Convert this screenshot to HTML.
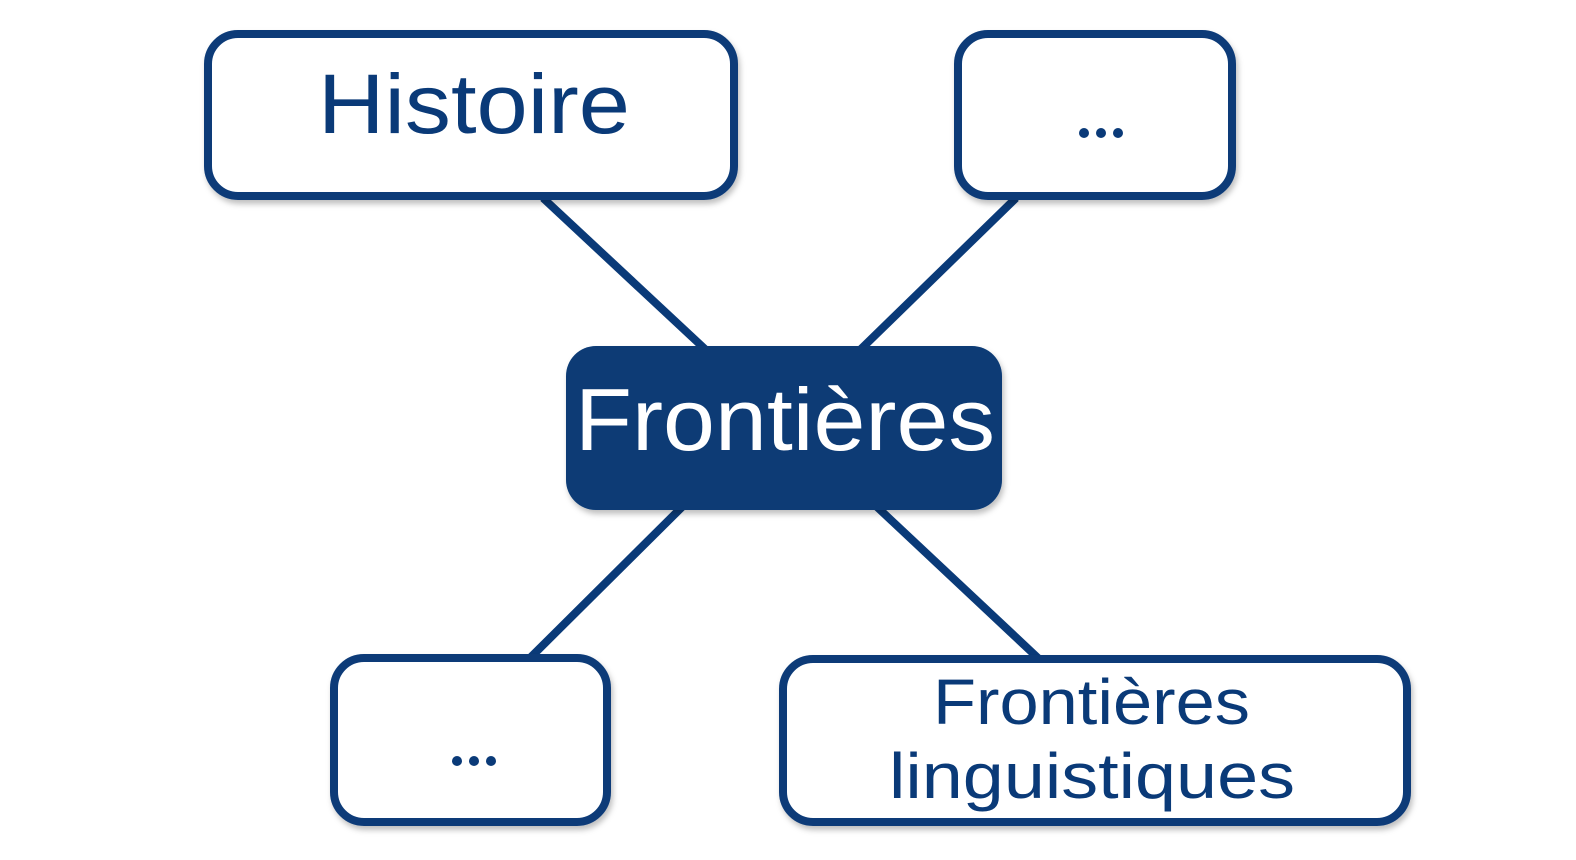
<!DOCTYPE html>
<html><head><meta charset="utf-8"><style>
html,body{margin:0;padding:0;background:#fff;}
body{width:1576px;height:860px;position:relative;overflow:hidden;font-family:"Liberation Sans",sans-serif;}
svg{position:absolute;left:0;top:0;}
</style></head><body>
<svg width="1576" height="860" viewBox="0 0 1576 860">
<defs><filter id="s" x="-10%" y="-10%" width="120%" height="130%"><feDropShadow dx="2" dy="4" stdDeviation="3" flood-color="#000" flood-opacity="0.25"/></filter></defs>
<g stroke="#0a3a78" stroke-width="8" stroke-linecap="butt">
<line x1="543" y1="198" x2="706" y2="350"/>
<line x1="1016" y1="198" x2="860" y2="350"/>
<line x1="683" y1="506" x2="530" y2="658"/>
<line x1="876" y1="506" x2="1038" y2="658"/>
</g>
<g fill="#fff" stroke="#0a3a78" stroke-width="8" filter="url(#s)">
<rect x="208" y="34" width="526" height="162" rx="30"/>
<rect x="958" y="34" width="274" height="162" rx="30"/>
<rect x="334" y="658" width="273" height="164" rx="30"/>
<rect x="783" y="659" width="624" height="163" rx="30"/>
</g>
<rect x="566" y="346" width="436" height="164" rx="30" fill="#083a75" filter="url(#s)"/>
<g fill="#0a3a78">
<circle cx="1084" cy="133" r="5"/><circle cx="1101" cy="133" r="5"/><circle cx="1118" cy="133" r="5"/>
<circle cx="457" cy="761" r="5"/><circle cx="474" cy="761" r="5"/><circle cx="491" cy="761" r="5"/>
</g>
<g font-family="Liberation Sans, sans-serif" fill="#0a3a78" lengthAdjust="spacingAndGlyphs">
<text x="318" y="133" font-size="84" textLength="312" lengthAdjust="spacingAndGlyphs">Histoire</text>
<text x="933" y="724" font-size="64" textLength="317" lengthAdjust="spacingAndGlyphs">Frontières</text>
<text x="889" y="798" font-size="64" textLength="406" lengthAdjust="spacingAndGlyphs">linguistiques</text>
<text x="575" y="450" font-size="88" fill="#fff" textLength="420" lengthAdjust="spacingAndGlyphs">Frontières</text>
</g>
</svg>
</body></html>
